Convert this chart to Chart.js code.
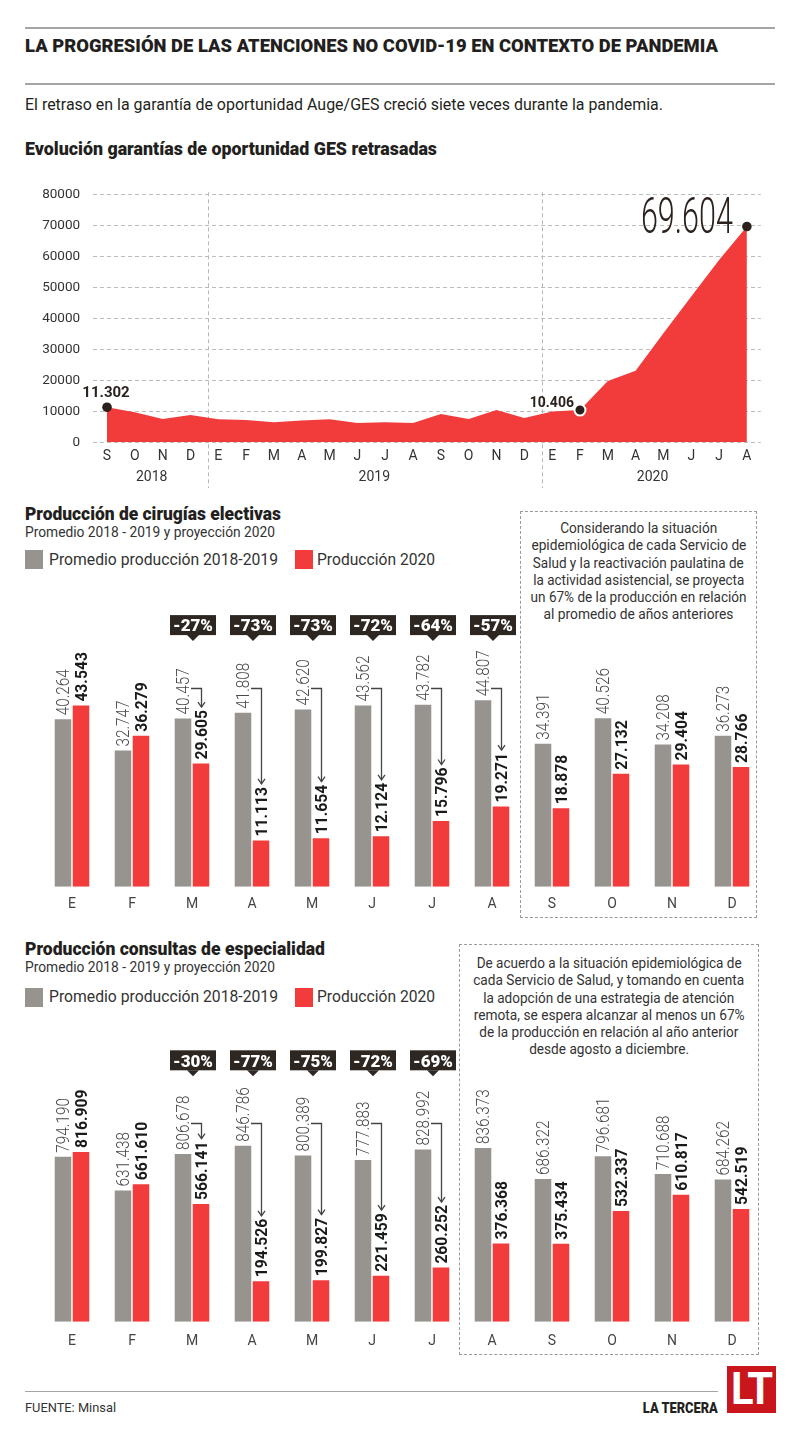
<!DOCTYPE html>
<html lang="es">
<head>
<meta charset="utf-8">
<title>La progresión de las atenciones no Covid-19 en contexto de pandemia</title>
<script src="https://cdn.jsdelivr.net/npm/chart.js@4.4.1/dist/chart.umd.min.js"></script>
<style>
  body { margin: 0; background: #fff; font-family: Roboto, "Noto Sans", sans-serif; color: #231f20; }
  #page { position: relative; width: 800px; height: 1437px; overflow: hidden; }
  .t { position: absolute; white-space: nowrap; line-height: 1; }
  .h { font-weight: 900; }
  .fit { display: inline-block; transform-origin: left center; }
  .rule { position: absolute; left: 25px; border-top: 2px solid #a5a5a5; }
  .sq { position: absolute; width: 18px; height: 19px; }
  .box { position: absolute; border: 1.5px dashed #9a9a9a; box-sizing: border-box; font-size: 14px; line-height: 17.3px; color: #333; text-align: center; }
  .box div { white-space: nowrap; }
  .box .fit { transform-origin: center center; }
  .cv { position: absolute; left: 0; }
</style>
</head>
<body>
<div id="page">
  <div class="rule" style="top:27px;width:750px"></div>
  <div class="t h" style="left:25px;top:37px;font-size:18px"><span class="fit" data-w="693">LA PROGRESIÓN DE LAS ATENCIONES NO COVID-19 EN CONTEXTO DE PANDEMIA</span></div>
  <div class="rule" style="top:83px;width:750px"></div>
  <div class="t" style="left:25px;top:97px;font-size:16px"><span class="fit" data-w="638">El retraso en la garantía de oportunidad Auge/GES creció siete veces durante la pandemia.</span></div>
  <div class="t h" style="left:25px;top:140px;font-size:18px"><span class="fit" data-w="412">Evolución garantías de oportunidad GES retrasadas</span></div>

  <div class="cv" style="top:170px"><canvas id="ges" width="800" height="320"></canvas></div>

  <div class="t h" style="left:25px;top:505px;font-size:18px"><span class="fit" data-w="256">Producción de cirugías electivas</span></div>
  <div class="t" style="left:25px;top:525px;font-size:14px;color:#333"><span class="fit" data-w="250">Promedio 2018 - 2019 y proyección 2020</span></div>
  <div class="sq" style="left:25px;top:550px;background:#97948f"></div>
  <div class="t" style="left:49px;top:551px;font-size:17px;color:#333"><span class="fit" data-w="229">Promedio producción 2018-2019</span></div>
  <div class="sq" style="left:295px;top:550px;background:#f23b3b"></div>
  <div class="t" style="left:317px;top:551px;font-size:17px;color:#333"><span class="fit" data-w="118">Producción 2020</span></div>

  <div class="box" style="left:520px;top:511px;width:237px;height:407px;padding-top:8px">
    <div><span class="fit" data-w="157">Considerando la situación</span></div>
    <div><span class="fit" data-w="215">epidemiológica de cada Servicio de</span></div>
    <div><span class="fit" data-w="211">Salud y la reactivación paulatina de</span></div>
    <div><span class="fit" data-w="211">la actividad asistencial, se proyecta</span></div>
    <div><span class="fit" data-w="216">un 67% de la producción en relación</span></div>
    <div><span class="fit" data-w="190">al promedio de años anteriores</span></div>
  </div>

  <div class="cv" style="top:580px"><canvas id="cir" width="800" height="335"></canvas></div>

  <div class="t h" style="left:25px;top:940px;font-size:18px"><span class="fit" data-w="300">Producción consultas de especialidad</span></div>
  <div class="t" style="left:25px;top:960px;font-size:14px;color:#333"><span class="fit" data-w="250">Promedio 2018 - 2019 y proyección 2020</span></div>
  <div class="sq" style="left:25px;top:988px;background:#97948f"></div>
  <div class="t" style="left:49px;top:988px;font-size:17px;color:#333"><span class="fit" data-w="229">Promedio producción 2018-2019</span></div>
  <div class="sq" style="left:295px;top:988px;background:#f23b3b"></div>
  <div class="t" style="left:317px;top:988px;font-size:17px;color:#333"><span class="fit" data-w="118">Producción 2020</span></div>

  <div class="box" style="left:459px;top:944px;width:300px;height:411px;padding-top:10px">
    <div><span class="fit" data-w="265">De acuerdo a la situación epidemiológica de</span></div>
    <div><span class="fit" data-w="271">cada Servicio de Salud, y tomando en cuenta</span></div>
    <div><span class="fit" data-w="251">la adopción de una estrategia de atención</span></div>
    <div><span class="fit" data-w="271">remota, se espera alcanzar al menos un 67%</span></div>
    <div><span class="fit" data-w="259">de la producción en relación al año anterior</span></div>
    <div><span class="fit" data-w="160">desde agosto a diciembre.</span></div>
  </div>

  <div class="cv" style="top:1015px"><canvas id="con" width="800" height="340"></canvas></div>

  <div class="rule" style="top:1391px;width:693px;border-top-width:1.5px"></div>
  <div class="t" style="left:25px;top:1401px;font-size:13px;color:#333"><span class="fit" data-w="91">FUENTE: Minsal</span></div>
  <div class="t h" style="right:82px;top:1401px;font-size:14px"><span class="fit" data-w="75" style="transform-origin:right center">LA TERCERA</span></div>
  <div style="position:absolute;left:727px;top:1366px;width:49px;height:47px;background:#c9161d;color:#fff;font-weight:700;font-size:44px;line-height:47px;text-align:center;overflow:hidden"><span class="fit" data-w="40" style="transform-origin:center center;letter-spacing:-2px">LT</span></div>
</div>

<script>
const GRAY = '#97948f';
const RED = '#f23b3b';
const DARK = '#2b221d';

// GES retrasadas, septiembre 2018 - agosto 2020
const gesMonths = ['S', 'O', 'N', 'D', 'E', 'F', 'M', 'A', 'M', 'J', 'J', 'A', 'S', 'O', 'N', 'D', 'E', 'F', 'M', 'A', 'M', 'J', 'J', 'A'];
const gesValues = [11302, 9700, 7500, 8800, 7400, 7200, 6500, 7000, 7400, 6200, 6450, 6200, 9100, 7500, 10400, 7850, 9900, 10406, 19800, 23100, 35200, 47000, 58800, 69604];
const gesYears = ['2018', '2019', '2020'];
const gesYearStart = [0, 4, 16];
const gesMarked = [0, 17, 23];

// barras: enero - diciembre
const months = ['E', 'F', 'M', 'A', 'M', 'J', 'J', 'A', 'S', 'O', 'N', 'D'];
const cirAvg = [40264, 32747, 40457, 41808, 42620, 43562, 43782, 44807, 34391, 40526, 34208, 36273];
const cirProd = [43543, 36279, 29605, 11113, 11654, 12124, 15796, 19271, 18878, 27132, 29404, 28766];
const cirPct = [null, null, '-27%', '-73%', '-73%', '-72%', '-64%', '-57%', null, null, null, null];
const conAvg = [794190, 631438, 806678, 846786, 800389, 777883, 828992, 836373, 686322, 796681, 710688, 684262];
const conProd = [816909, 661610, 566141, 194526, 199827, 221459, 260252, 376368, 375434, 532337, 610817, 542519];
const conPct = [null, null, '-30%', '-77%', '-75%', '-72%', '-69%', null, null, null, null, null];

function fmt(v) {
  return String(v).replace(/\B(?=(\d{3})+(?!\d))/g, '.');
}

document.querySelectorAll('.fit').forEach(function (el) {
  const w = el.getBoundingClientRect().width;
  if (w > 0) el.style.transform = 'scaleX(' + (+el.dataset.w / w) + ')';
});

// ---------- area chart ----------
const gesDecor = {
  id: 'gesDecor',
  beforeDatasetsDraw(chart) {
    const { ctx, chartArea, scales: { x } } = chart;
    ctx.save();
    ctx.strokeStyle = '#b8b8b8';
    ctx.lineWidth = 1;
    ctx.setLineDash([4, 3]);
    gesYearStart.slice(1).forEach(function (i) {
      const sx = Math.round((x.getPixelForValue(i - 1) + x.getPixelForValue(i)) / 2 + 4) + 0.5;
      ctx.beginPath();
      ctx.moveTo(sx, chartArea.top - 2);
      ctx.lineTo(sx, chart.height - 2);
      ctx.stroke();
    });
    ctx.restore();
  },
  afterDraw(chart) {
    const { ctx, scales: { x } } = chart;
    const pts = chart.getDatasetMeta(0).data;
    ctx.save();
    ctx.fillStyle = '#333';
    ctx.font = '14px Roboto';
    ctx.textAlign = 'center';
    ctx.textBaseline = 'middle';
    gesYears.forEach(function (y, k) {
      const a = gesYearStart[k];
      const b = k + 1 < gesYearStart.length ? gesYearStart[k + 1] - 1 : gesValues.length - 1;
      ctx.fillText(y, (x.getPixelForValue(a) + x.getPixelForValue(b)) / 2 + 3, 307);
    });

    ctx.fillStyle = DARK;
    ctx.textBaseline = 'alphabetic';
    let p = pts[gesMarked[0]];
    ctx.font = 'bold 15px Roboto';
    ctx.textAlign = 'center';
    ctx.fillText(fmt(gesValues[gesMarked[0]]), p.x - 1, p.y - 10);

    p = pts[gesMarked[1]];
    ctx.font = 'bold 14px Roboto';
    ctx.textAlign = 'right';
    ctx.fillText(fmt(gesValues[gesMarked[1]]), p.x - 6, p.y - 3);

    p = pts[gesMarked[2]];
    const big = fmt(gesValues[gesMarked[2]]);
    ctx.font = '300 50px Roboto';
    const w = ctx.measureText(big).width;
    ctx.translate(p.x - 14, p.y + 6.5);
    ctx.scale(92 / w, 1);
    ctx.textAlign = 'right';
    ctx.fillText(big, 0, 0);
    ctx.restore();
  }
};

new Chart(document.getElementById('ges'), {
  type: 'line',
  data: {
    labels: gesMonths,
    datasets: [{
      data: gesValues,
      fill: 'origin',
      backgroundColor: RED,
      borderWidth: 0,
      tension: 0,
      pointRadius: function (c) { return gesMarked.includes(c.dataIndex) ? (c.dataIndex === gesMarked[1] ? 5.5 : 4.8) : 0; },
      pointBackgroundColor: DARK,
      pointBorderColor: function (c) { return c.dataIndex === gesMarked[1] ? '#fff' : DARK; },
      pointBorderWidth: function (c) { return c.dataIndex === gesMarked[1] ? 2 : 0; }
    }]
  },
  options: {
    responsive: false,
    animation: false,
    events: [],
    layout: { padding: { left: 0, right: 39.2, top: 24.3, bottom: 0 } },
    plugins: { legend: { display: false }, tooltip: { enabled: false } },
    scales: {
      x: {
        offset: true,
        grid: { display: false },
        border: { display: false },
        ticks: { color: '#333', font: { family: 'Roboto', size: 14 }, padding: -2, maxRotation: 0, autoSkip: false },
        afterFit: function (s) { s.height = 47.7; }
      },
      y: {
        min: 0,
        max: 80000,
        grid: { color: '#bdbdbd', drawTicks: false, lineWidth: 1 },
        border: { display: false, dash: [4, 3] },
        ticks: { stepSize: 10000, color: '#333', font: { family: 'Roboto', size: 13.5 }, padding: 13, callback: function (v) { return String(v); } },
        afterFit: function (s) { s.width = 93.1; }
      }
    }
  },
  plugins: [gesDecor]
});

// ---------- bar charts ----------
function drawRot(ctx, text, x, y, font, size, color, sx) {
  ctx.save();
  ctx.translate(x, y);
  ctx.rotate(-Math.PI / 2);
  ctx.scale(sx, 1);
  ctx.font = font;
  ctx.fillStyle = color;
  ctx.textAlign = 'left';
  ctx.textBaseline = 'alphabetic';
  ctx.fillText(text, 0, size * 0.36);
  const w = ctx.measureText(text).width * sx;
  ctx.restore();
  return w;
}

function barDecor(avg, prod, pct) {
  return {
    id: 'barDecor',
    afterDatasetsDraw(chart) {
      const { ctx, chartArea } = chart;
      const g = chart.getDatasetMeta(0).data;
      const r = chart.getDatasetMeta(1).data;
      avg.forEach(function (v, i) {
        drawRot(ctx, fmt(v), g[i].x, g[i].y - 4, '300 18px Roboto', 18, '#4a4a4a', 0.85);
        const rw = drawRot(ctx, fmt(prod[i]), r[i].x, r[i].y - 4, 'bold 16.5px Roboto', 16.5, '#1a1a1a', 0.95);
        if (!pct[i]) return;

        // hook arrow
        const hy = Math.round(chartArea.top + 92) + 0.5;
        const x0 = g[i].x + 8;
        const x1 = Math.round(r[i].x) + 0.5;
        const yEnd = r[i].y - 4 - rw - 3;
        ctx.save();
        ctx.strokeStyle = '#444';
        ctx.lineWidth = 1.3;
        ctx.beginPath();
        ctx.moveTo(x0, hy);
        ctx.lineTo(x1, hy);
        ctx.lineTo(x1, yEnd);
        ctx.stroke();
        ctx.beginPath();
        ctx.moveTo(x1 - 3.5, yEnd - 5);
        ctx.lineTo(x1, yEnd);
        ctx.lineTo(x1 + 3.5, yEnd - 5);
        ctx.stroke();

        // percent badge
        const cx = (g[i].x + r[i].x) / 2 + 1;
        const top = chartArea.top + 19.5;
        ctx.fillStyle = '#2d2621';
        ctx.fillRect(cx - 23, top, 46, 20);
        ctx.beginPath();
        ctx.moveTo(cx - 6, top + 20);
        ctx.lineTo(cx + 6, top + 20);
        ctx.lineTo(cx, top + 26);
        ctx.closePath();
        ctx.fill();
        ctx.font = '900 17px Roboto';
        ctx.fillStyle = '#fff';
        ctx.textAlign = 'center';
        ctx.textBaseline = 'alphabetic';
        const tw = ctx.measureText(pct[i]).width;
        ctx.translate(cx, top + 16.2);
        ctx.scale(Math.min(1, 44 / tw), 1);
        ctx.fillText(pct[i], 0, 0);
        ctx.restore();
      });
    }
  };
}

function barChart(id, avg, prod, pct, yMax, padTop, axisH, tickPad) {
  new Chart(document.getElementById(id), {
    type: 'bar',
    data: {
      labels: months,
      datasets: [
        { label: 'Promedio producción 2018-2019', data: avg, backgroundColor: GRAY, barPercentage: 0.92, categoryPercentage: 0.6 },
        { label: 'Producción 2020', data: prod, backgroundColor: RED, barPercentage: 0.92, categoryPercentage: 0.6 }
      ]
    },
    options: {
      responsive: false,
      animation: false,
      events: [],
      layout: { padding: { left: 42, right: 38, top: padTop, bottom: 0 } },
      plugins: { legend: { display: false }, tooltip: { enabled: false } },
      scales: {
        x: {
          grid: { display: false },
          border: { display: false },
          ticks: { color: '#444', font: { family: 'Roboto', size: 14 }, padding: tickPad, maxRotation: 0, autoSkip: false },
          afterFit: function (s) { s.height = axisH; }
        },
        y: { display: false, min: 0, max: yMax }
      }
    },
    plugins: [barDecor(avg, prod, pct)]
  });
}

barChart('cir', cirAvg, cirProd, cirPct, 70000, 15.6, 28.3, 1);
barChart('con', conAvg, conProd, conPct, 1400000, 15.8, 33.3, 3);
</script>
</body>
</html>
